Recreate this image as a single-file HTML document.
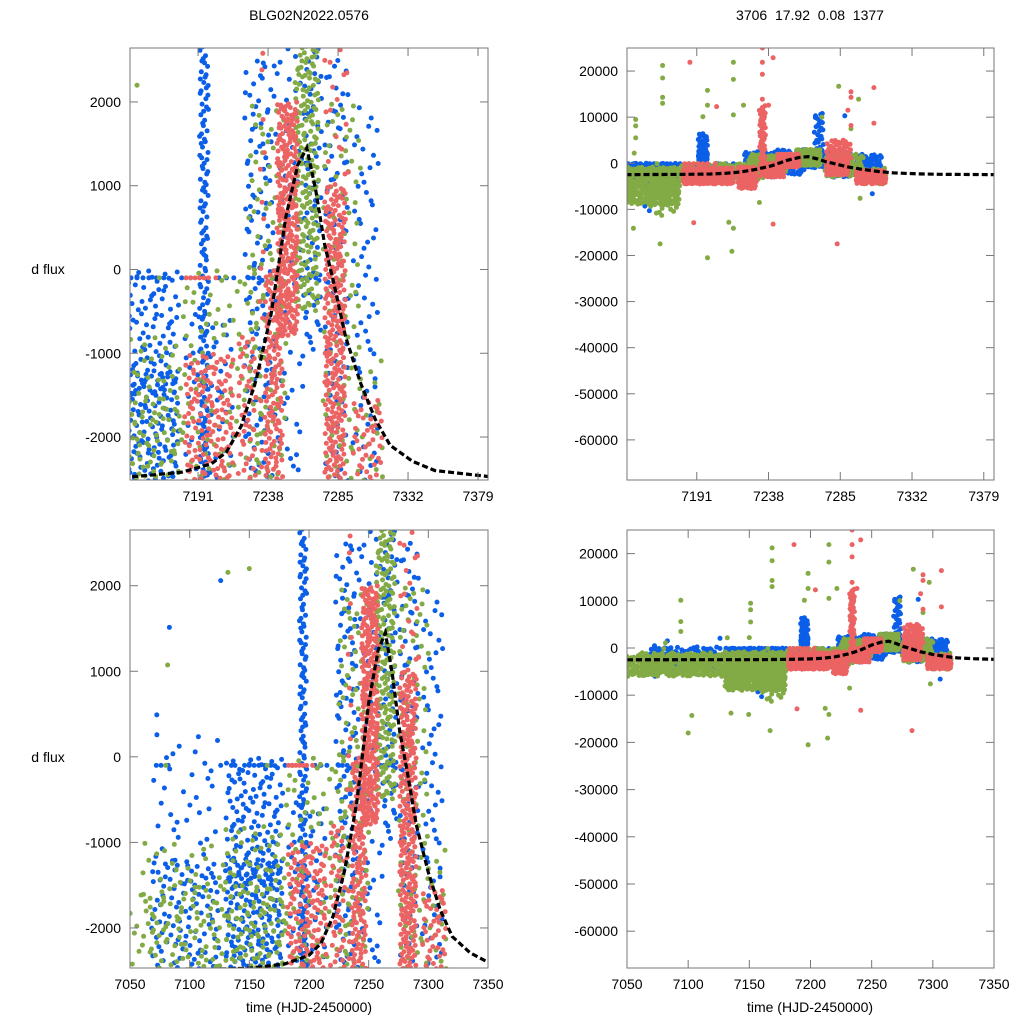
<!DOCTYPE html>
<html><head><meta charset="utf-8">
<style>
html,body{margin:0;padding:0;background:#fff;width:1024px;height:1024px;overflow:hidden;}
svg{display:block;font-family:"Liberation Sans",sans-serif;}
</style></head>
<body>
<svg id="chart" width="1024" height="1024" viewBox="0 0 1024 1024" xmlns="http://www.w3.org/2000/svg">
<text x="309" y="20" font-size="14" text-anchor="middle">BLG02N2022.0576</text>
<text x="810" y="20" font-size="14" text-anchor="middle" xml:space="preserve">3706  17.92  0.08  1377</text>
<text x="48" y="274" font-size="14" text-anchor="middle">d flux</text>
<text x="48" y="762" font-size="14" text-anchor="middle">d flux</text>
<text x="309" y="1012" font-size="14" text-anchor="middle">time (HJD-2450000)</text>
<text x="810" y="1012" font-size="14" text-anchor="middle">time (HJD-2450000)</text>
</svg>
<script>
// ---- data ----
// segments: [t0, t1, fluxLow, fluxHigh, count]
const blueSegments = [
 [7068,7125,-4500,-1200,250],[7068,7125,-1500,300,40],[7130,7178,-5000,-1200,450],
 [7130,7178,-1500,0,120],[7192,7198,-2500,2700,140],[7192,7198,2700,6500,25],
 [7182,7215,-4000,-500,90],[7222,7240,-3000,2500,120],[7240,7262,-2500,3000,80],
 [7262,7274,-1000,3000,70],[7268,7274,3000,11000,25],[7276,7292,-3000,2500,90],
 [7295,7312,-4000,2000,80]
];
const greenSegments = [
 [7050,7130,-6000,-1500,260],[7060,7130,-2500,-1000,60],[7130,7180,-9000,-1500,300],
 [7130,7180,-2500,-800,80],[7160,7180,-11000,-5000,25],[7180,7235,-3500,0,120],
 [7225,7250,-2500,2000,90],[7256,7272,-500,3000,200],[7275,7300,-3000,2000,100],
 [7300,7315,-4500,-1000,40]
];
const redSegments = [
 [7182,7215,-4500,-1000,300],[7218,7230,-5500,-800,120],[7232,7236,-3000,13000,50],
 [7236,7248,-3000,0,150],[7244,7258,-800,2000,250],[7276,7290,-2500,1000,250],
 [7276,7292,1000,5000,40],[7295,7315,-4500,-1500,120]
];
const greenOutT = [7094,7094,7094,7100,7103,7151,7151,7151,7135,7149.5,7168.6,7168.6,7168.6,7168.6,7167,7168,7198,7198,7198,7195,7215,7215,7215,7221.6,7214,7212,7215,7284,7297,7292,7273,7232,7298,7081.5,7132,7150];
const greenOutF = [10100,5600,3500,-18000,-14300,9500,8100,5500,-13800,-14100,21200,18500,14300,13000,-17500,-11300,-20500,15800,12600,10100,21900,18200,10500,12600,-19100,-12800,-14100,16700,13900,7500,10000,-8500,-7600,1073,2155,2200];
const redOutT = [7186.5,7234,7234,7234,7241,7234,7234,7238,7241,7204,7189,7283,7307,7292,7292,7290,7307,7292];
const redOutF = [21900,25000,21900,19300,22900,13900,12100,12600,-13200,12300,-12900,-17500,16400,15500,14300,11500,8700,8200];
const blueOutT = [7157,7160,7073,7306,7288,7083,7072.5,7126];
const blueOutF = [-9300,-10300,-6000,-6600,10300,1513,490,2060];
const blueRowT = [7072,7076,7082,7126,7135,7138,7146,7150,7154,7158,7163,7168,7180,7186,7205,7210,7215,7225,7228,7232,7256,7260,7263,7266,7270];
const redRowT = [7183,7186,7189,7192,7195,7198,7203];
const greenRowT = [7080,7165];
const rowFlux = -100;
const modelT = [7050,7100,7150,7180,7200,7210,7220,7230,7240,7250,7258,7264,7270,7276,7282,7290,7300,7310,7320,7335,7350,7390];
const modelF = [-2500,-2490,-2470,-2420,-2320,-2180,-1870,-1320,-540,630,1250,1450,950,300,-150,-800,-1350,-1790,-2100,-2290,-2400,-2480];
const topXTicks = [7191,7238,7285,7332,7379];
const bottomXTicks = [7050,7100,7150,7200,7250,7300,7350];
const leftYTicks = [-2000,-1000,0,1000,2000];
const rightYTicks = [-60000,-50000,-40000,-30000,-20000,-10000,0,10000,20000];

// ---- panels ----
const panels = [
 {name:'top-left',x0:130,x1:488,y0:48,y1:480,t0:7145.3,t1:7385.7,f0:-2513,f1:2644,xt:topXTicks,yt:leftYTicks},
 {name:'top-right',x0:627,x1:994,y0:48,y1:480,t0:7145.3,t1:7385.7,f0:-68700,f1:25000,xt:topXTicks,yt:rightYTicks},
 {name:'bottom-left',x0:130,x1:488,y0:530,y1:968,t0:7050,t1:7350,f0:-2468,f1:2651,xt:bottomXTicks,yt:leftYTicks},
 {name:'bottom-right',x0:627,x1:994,y0:530,y1:968,t0:7050,t1:7350,f0:-67800,f1:25000,xt:bottomXTicks,yt:rightYTicks}
];
const NS='http://www.w3.org/2000/svg';
const svg=document.getElementById('chart');
function el(tag,attrs,parent){const e=document.createElementNS(NS,tag);for(const k in attrs)e.setAttribute(k,attrs[k]);(parent||svg).appendChild(e);return e;}
function halton(i,b){let f=1,r=0;while(i>0){f/=b;r+=f*(i%b);i=Math.floor(i/b);}return r;}
function expand(segs,base){const pts=[];let k=base;segs.forEach(s=>{for(let i=0;i<s[4];i++){k++;pts.push([s[0]+(s[1]-s[0])*halton(k,2),s[2]+(s[3]-s[2])*halton(k,3)]);}});return pts;}
function series(segs,oT,oF,rowT,base){const p=expand(segs,base);oT.forEach((t,i)=>p.push([t,oF[i]]));rowT.forEach(t=>p.push([t,rowFlux]));return p;}
const blue=series(blueSegments,blueOutT,blueOutF,blueRowT,11);
const green=series(greenSegments,greenOutT,greenOutF,greenRowT,5001);
const red=series(redSegments,redOutT,redOutF,redRowT,11001);
const colors={blue:'#0b5ee8',green:'#82aa45',red:'#ec6363'};

panels.forEach((P,pi)=>{
 const xs=t=>P.x0+(t-P.t0)/(P.t1-P.t0)*(P.x1-P.x0);
 const ys=f=>P.y1-(f-P.f0)/(P.f1-P.f0)*(P.y1-P.y0);
 const cp=el('clipPath',{id:'clip'+pi});
 el('rect',{x:P.x0,y:P.y0,width:P.x1-P.x0,height:P.y1-P.y0},cp);
 const g=el('g',{'clip-path':'url(#clip'+pi+')'});
 
 
 [['blue',blue],['green',green],['red',red]].forEach(([c,pts])=>{
  const sg=el('g',{fill:colors[c]},g);
  
  
  pts.forEach(p=>{
   const d=el('circle',{cx:xs(p[0]).toFixed(1),cy:ys(p[1]).toFixed(1),r:2.5},sg);
   
   
  });
 });
 const m=el('polyline',{points:modelT.map((t,i)=>xs(t).toFixed(1)+','+ys(modelF[i]).toFixed(1)).join(' '),fill:'none',stroke:'#000','stroke-width':3.2,'stroke-dasharray':'6,3'},g);
 
 
 const fr=el('rect',{x:P.x0,y:P.y0,width:P.x1-P.x0,height:P.y1-P.y0,fill:'none',stroke:'#777','stroke-width':1});
 
 
 P.xt.forEach(t=>{
  const x=xs(t);
  if(x>P.x0+1&&x<P.x1-1){el('line',{x1:x,y1:P.y1,x2:x,y2:P.y1-8,stroke:'#777'});el('line',{x1:x,y1:P.y0,x2:x,y2:P.y0+8,stroke:'#777'});}
  const tl=el('text',{x:x,y:P.y1+21,'font-size':14,'text-anchor':'middle'});
  tl.textContent=t;
  
  
 });
 P.yt.forEach(f=>{
  const y=ys(f);
  el('line',{x1:P.x0,y1:y,x2:P.x0+8,y2:y,stroke:'#777'});el('line',{x1:P.x1,y1:y,x2:P.x1-8,y2:y,stroke:'#777'});
  const yl=el('text',{x:P.x0-9,y:y+5,'font-size':14,'text-anchor':'end'});
  yl.textContent=f;
  
  
 });
});
</script>
</body></html>
